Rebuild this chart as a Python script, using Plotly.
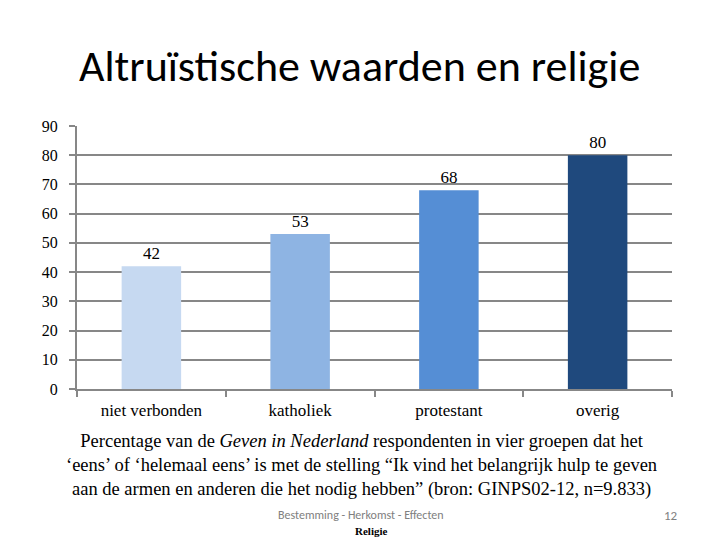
import plotly.graph_objects as go

# Data
groups = ["niet verbonden", "katholiek", "protestant", "overig"]
values = [42, 53, 68, 80]
bar_colors = ["#C6D9F1", "#8EB4E3", "#558ED5", "#1F497D"]
y_ticks = [0, 10, 20, 30, 40, 50, 60, 70, 80, 90]

serif = "Constantia, 'Liberation Serif', 'DejaVu Serif', serif"
sans = "Calibri, Carlito, Lato, 'Open Sans', sans-serif"
grid_grey = "#878787"

# the page body adds an 8px margin, so the figure is a bit smaller than the window
fig = go.Figure(
    layout=dict(
        width=712,
        height=532,
        margin=dict(l=69, r=48, t=118, b=151, pad=0),
        paper_bgcolor="white",
        plot_bgcolor="white",
        font=dict(family=serif, size=16, color="black"),
        showlegend=False,
        bargap=0.6,
    )
)

fig.add_trace(
    go.Bar(
        x=groups,
        y=values,
        marker=dict(color=bar_colors, line=dict(width=0)),
        text=[str(v) for v in values],
        textposition="outside",
        textfont=dict(family=serif, size=17, color="black"),
        cliponaxis=False,
    )
)

fig.update_layout(
    xaxis=dict(
        showgrid=False,
        showline=True,
        linecolor=grid_grey,
        linewidth=2,
        ticks="outside",
        tickson="boundaries",
        ticklen=6,
        tickwidth=2,
        tickcolor=grid_grey,
        ticklabelstandoff=5,
        tickfont=dict(family=serif, size=17),
    ),
    yaxis=dict(
        range=[0, 90],
        tickvals=y_ticks,
        showgrid=True,
        gridcolor=grid_grey,
        gridwidth=2,
        showline=True,
        linecolor=grid_grey,
        linewidth=2,
        ticks="outside",
        ticklen=6,
        tickwidth=2,
        tickcolor=grid_grey,
        ticklabelstandoff=8,
        tickfont=dict(family=serif, size=16),
        zeroline=False,
    ),
)

# Title
fig.add_annotation(
    text="Altruïstische waarden en religie",
    xref="paper", yref="paper", x=0.474, y=1.0, yshift=60,
    xanchor="center", yanchor="middle", showarrow=False,
    font=dict(family=sans, size=44, color="black"),
)

# Caption below chart
caption = (
    "Percentage van de <i>Geven in Nederland</i> respondenten in vier groepen dat het<br>"
    "‘eens’ of ‘helemaal eens’ is met de stelling “Ik vind het belangrijk hulp te geven<br>"
    "aan de armen en anderen die het nodig hebben” (bron: GINPS02-12, n=9.833)"
)
fig.add_annotation(
    text=caption,
    xref="paper", yref="paper", x=0.478, y=0, yshift=-76,
    xanchor="center", yanchor="middle", showarrow=False, align="center",
    font=dict(family=serif, size=18.5, color="black"),
)

# Footer
fig.add_annotation(
    text="Bestemming - Herkomst - Effecten",
    xref="paper", yref="paper", x=0.478, y=0, yshift=-126,
    xanchor="center", yanchor="middle", showarrow=False,
    font=dict(family=sans, size=12, color="#808080"),
)
fig.add_annotation(
    text="<b>Religie</b>",
    xref="paper", yref="paper", x=0.478, y=0, yshift=-142, xshift=10,
    xanchor="center", yanchor="middle", showarrow=False,
    font=dict(family=serif, size=11, color="black"),
)
fig.add_annotation(
    text="12",
    xref="paper", yref="paper", x=1.0, y=0, yshift=-126, xshift=8,
    xanchor="right", yanchor="middle", showarrow=False,
    font=dict(family=sans, size=13, color="#808080"),
)

fig.write_html("out.html")
